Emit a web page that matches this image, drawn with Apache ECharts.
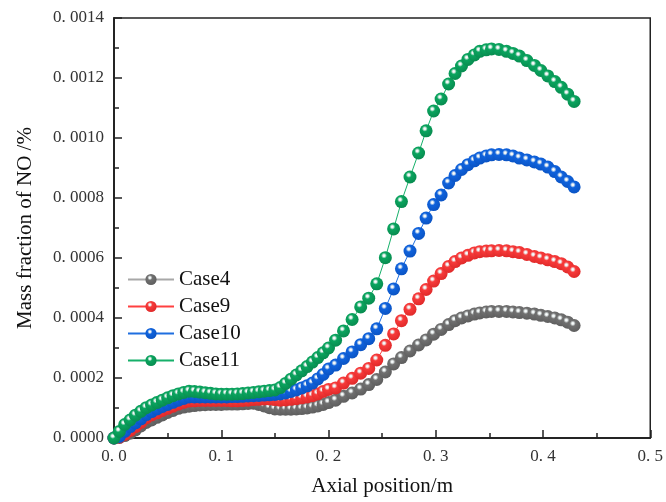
<!DOCTYPE html>
<html>
<head>
<meta charset="utf-8">
<script src="https://cdn.jsdelivr.net/npm/echarts@6/dist/echarts.min.js"></script>
<style>
  html, body { margin: 0; padding: 0; background: #fff; }
  #chart { width: 666px; height: 502px; }
</style>
</head>
<body>
<div id="chart"></div>
<script>
// axial positions (m)
const xs = [
  0, 0.005, 0.01, 0.015, 0.02, 0.025, 0.03, 0.035, 0.04, 0.045,
  0.05, 0.055, 0.06, 0.065, 0.07, 0.075, 0.08, 0.085, 0.09, 0.095,
  0.1, 0.105, 0.11, 0.115, 0.12, 0.125, 0.13, 0.135, 0.14, 0.145,
  0.15, 0.155, 0.16, 0.165, 0.17, 0.175, 0.18, 0.185, 0.19, 0.195,
  0.2, 0.2066, 0.214, 0.222, 0.23, 0.2375, 0.245, 0.253, 0.2607, 0.268,
  0.276, 0.284, 0.291, 0.298, 0.305, 0.312, 0.318, 0.324, 0.33, 0.336,
  0.341, 0.347, 0.352, 0.359, 0.366, 0.372, 0.378, 0.385, 0.392, 0.398,
  0.4045, 0.411, 0.417, 0.423, 0.429
];

const case4 = [
  0, 0.000002, 0.000008, 0.000016, 0.000027, 0.000040, 0.000052, 0.000060, 0.000069, 0.000077,
  0.000085, 0.000092, 0.000099, 0.000103, 0.000106, 0.000108, 0.000110, 0.000111, 0.000112, 0.000112,
  0.000112, 0.000113, 0.000113, 0.000113, 0.000114, 0.000115, 0.000116, 0.000112, 0.000107, 0.000101,
  0.000097, 0.000096, 0.000096, 0.000096, 0.000097, 0.000098, 0.000100, 0.000103, 0.000107, 0.000112,
  0.000118, 0.000126, 0.000139, 0.000150, 0.000163, 0.000178, 0.000195, 0.000220, 0.000247, 0.000268,
  0.000290, 0.000310, 0.000327, 0.000346, 0.000362, 0.000378, 0.000391, 0.000400, 0.000407, 0.000413,
  0.000417, 0.000420, 0.000422, 0.000422, 0.000422, 0.000420, 0.000418, 0.000416, 0.000413, 0.000409,
  0.000405, 0.000400, 0.000394, 0.000386, 0.000375
];

const case9 = [
  0, 0.000003, 0.000012, 0.000025, 0.000038, 0.000052, 0.000067, 0.000077, 0.000084, 0.000092,
  0.000099, 0.000106, 0.000113, 0.000119, 0.000123, 0.000124, 0.000125, 0.000125, 0.000125, 0.000125,
  0.000125, 0.000125, 0.000124, 0.000124, 0.000125, 0.000126, 0.000128, 0.000129, 0.000130, 0.000130,
  0.000128, 0.000126, 0.000127, 0.000129, 0.000131, 0.000134, 0.000137, 0.000141, 0.000147, 0.000155,
  0.000162, 0.000167, 0.000183, 0.000199, 0.000216, 0.000232, 0.000260, 0.000309, 0.000347, 0.000391,
  0.000429, 0.000464, 0.000495, 0.000523, 0.000548, 0.000572, 0.000588, 0.000600, 0.000609, 0.000617,
  0.000621, 0.000623, 0.000624, 0.000625, 0.000624, 0.000621, 0.000618, 0.000612, 0.000605, 0.000600,
  0.000594, 0.000588, 0.000581, 0.000570, 0.000555
];

const case10 = [
  0, 0.000005, 0.000022, 0.000038, 0.000050, 0.000064, 0.000078, 0.000088, 0.000097, 0.000105,
  0.000112, 0.000119, 0.000126, 0.000132, 0.000137, 0.000137, 0.000137, 0.000137, 0.000137, 0.000137,
  0.000137, 0.000137, 0.000138, 0.000138, 0.000139, 0.000140, 0.000141, 0.000142, 0.000143, 0.000144,
  0.000145, 0.000147, 0.000150, 0.000155, 0.000160, 0.000167, 0.000174, 0.000183, 0.000197, 0.000212,
  0.000230, 0.000243, 0.000265, 0.000287, 0.000311, 0.000331, 0.000364, 0.000432, 0.000497, 0.000564,
  0.000623, 0.000682, 0.000733, 0.000778, 0.000810, 0.000850, 0.000875, 0.000895, 0.000911, 0.000924,
  0.000933, 0.000940, 0.000944, 0.000945, 0.000944, 0.000940, 0.000933, 0.000927, 0.000920, 0.000913,
  0.000903, 0.000888, 0.000870, 0.000855, 0.000837
];

const case11 = [
  0, 0.000022, 0.000045, 0.000060, 0.000076, 0.000089, 0.000101, 0.000110, 0.000118, 0.000126,
  0.000134, 0.000141, 0.000147, 0.000152, 0.000156, 0.000155, 0.000153, 0.000151, 0.000149, 0.000147,
  0.000146, 0.000146, 0.000146, 0.000147, 0.000148, 0.000150, 0.000152, 0.000154, 0.000156, 0.000158,
  0.000160, 0.000168, 0.000182, 0.000196, 0.000210, 0.000224, 0.000238, 0.000253, 0.000268, 0.000284,
  0.000300, 0.000326, 0.000357, 0.000395, 0.000437, 0.000466, 0.000514, 0.000601, 0.000697, 0.000788,
  0.000870, 0.000950, 0.001024, 0.001090, 0.001130, 0.001180, 0.001215, 0.001240, 0.001262, 0.001277,
  0.001289, 0.001294, 0.001297, 0.001295, 0.001289, 0.001282, 0.001273, 0.001258, 0.001242, 0.001225,
  0.001207, 0.001188, 0.001169, 0.001146, 0.001122
];

const seriesNames = ['Case4', 'Case9', 'Case10', 'Case11'];
const seriesValues = [case4, case9, case10, case11];
const markerColors = ['#707070', '#f73a3a', '#0f62dc', '#0aa45e'];
const darkColors = ['#5e5e5e', '#e02a2a', '#0b54c4', '#088c50'];
const lineColors = ['#a8a8a8', '#ff4040', '#1f6fe0', '#16b06a'];

const FONT = '"Liberation Serif", "Times New Roman", serif';

function ball(c, d) {
  return new echarts.graphic.RadialGradient(0.4, 0.34, 0.66, [
    { offset: 0, color: '#ffffff' },
    { offset: 0.12, color: '#eef4f4' },
    { offset: 0.34, color: c },
    { offset: 1, color: d }
  ]);
}

function fmt(v, digits) {
  return v.toFixed(digits).replace('.', '. ');
}

const axisColor = '#222';

// shared look for the main and the minor-tick axes
function axisBase(min, max, interval, len) {
  return {
    type: 'value',
    min: min, max: max, interval: interval,
    axisLine: { show: true, lineStyle: { color: axisColor, width: 1.5 } },
    axisTick: { show: true, inside: true, length: len, lineStyle: { color: axisColor, width: 1.5 } },
    splitLine: { show: false }
  };
}

const chart = echarts.init(document.getElementById('chart'));

chart.setOption({
  animation: false,
  backgroundColor: '#fff',
  grid: { left: 114, right: 13, top: 18, bottom: 58, show: true, borderColor: axisColor, borderWidth: 1.5 },
  legend: {
    left: 122,
    top: 264,
    orient: 'vertical',
    itemWidth: 46,
    itemHeight: 14,
    itemGap: 6,
    textStyle: { fontFamily: FONT, fontSize: 21, color: '#111' },
    data: seriesNames
  },
  xAxis: [
    Object.assign(axisBase(0, 0.5, 0.1, 8), {
      name: 'Axial position/m',
      nameLocation: 'middle',
      nameGap: 38,
      nameTextStyle: { fontFamily: FONT, fontSize: 21, color: '#111' },
      axisLabel: { fontFamily: FONT, fontSize: 17, color: '#333', margin: 10, formatter: v => fmt(v, 1) }
    }),
    Object.assign(axisBase(0, 0.5, 0.05, 5), {
      position: 'bottom',
      axisLabel: { show: false }
    })
  ],
  yAxis: [
    Object.assign(axisBase(0, 0.0014, 0.0002, 8), {
      name: 'Mass fraction of NO /%',
      nameLocation: 'middle',
      nameGap: 78,
      nameTextStyle: { fontFamily: FONT, fontSize: 21, color: '#111' },
      axisLabel: { fontFamily: FONT, fontSize: 17, color: '#333', margin: 10, formatter: v => fmt(v, 4) }
    }),
    Object.assign(axisBase(0, 0.0014, 0.0001, 5), {
      position: 'left',
      axisLabel: { show: false }
    })
  ],
  series: seriesNames.map((name, i) => ({
    name: name,
    type: 'line',
    data: xs.map((x, j) => [x, seriesValues[i][j]]),
    symbol: 'circle',
    symbolSize: 13,
    showAllSymbol: true,
    lineStyle: { color: lineColors[i], width: 1 },
    itemStyle: { color: ball(markerColors[i], darkColors[i]), borderWidth: 0 },
    emphasis: { disabled: true },
    z: 2 + i
  }))
});
</script>
</body>
</html>
